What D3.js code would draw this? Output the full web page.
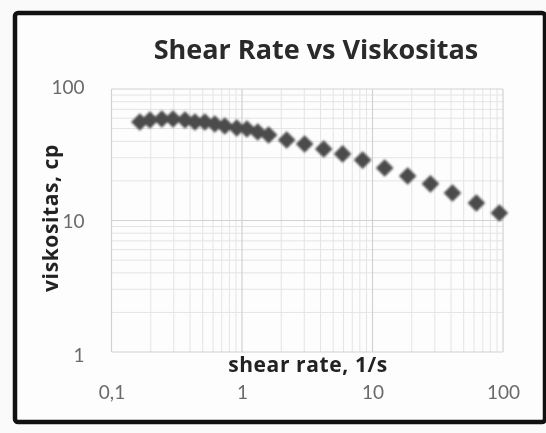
<!DOCTYPE html>
<html><head><meta charset="utf-8">
<script src="https://cdn.jsdelivr.net/npm/d3@7"></script>
<style>body{margin:0;background:#fafafa;} svg{display:block;}</style>
</head><body>
<svg id="c" width="546" height="433"></svg>
<script>
const shearRate = [0.165,0.197,0.243,0.296,0.366,0.436,0.519,0.619,0.738,0.912,1.09,1.32,1.60,2.20,3.02,4.23,5.90,8.40,12.4,18.6,27.8,41.0,62.5,93.8];
const viscosity = [56.1,58.1,59.2,59.2,58.1,56.1,56.1,54.2,52.3,50.5,49.6,47.1,44.7,40.9,38.2,35.0,32.1,28.8,25.1,21.8,19.0,16.2,13.6,11.4];
const xTicks = [0.1,1,10,100];
const xTickLabels = ["0,1","1","10","100"];
const yTicks = [1,10,100];
const yTickLabels = ["1","10","100"];

const svg = d3.select("#c");
const W=546,H=433;
const pl=111.5, pr=503, pt=89, pb=352;
const x = d3.scaleLog().domain([0.1,100]).range([pl,pr]);
const y = d3.scaleLog().domain([1,100]).range([pb,pt]);

svg.append("rect").attr("width",W).attr("height",H).attr("fill","#fafafa");
const defs = svg.append("defs");
defs.append("filter").attr("id","bl").append("feGaussianBlur").attr("stdDeviation",1.1);
defs.append("filter").attr("id","bl2").append("feGaussianBlur").attr("stdDeviation",0.5);

svg.append("rect").attr("x",15).attr("y",13).attr("width",530).attr("height",409)
  .attr("rx",3).attr("fill","#fdfdfd").attr("stroke","#111").attr("stroke-width",4.5);

const g = svg.append("g").attr("filter","url(#bl2)");
const minorX=[],minorY=[];
for(let d=0.1; d<100; d*=10){ for(let k=2;k<=9;k++) minorX.push(d*k); }
for(let d=1; d<100; d*=10){ for(let k=2;k<=9;k++) minorY.push(d*k); }
g.selectAll(".mx").data(minorX).join("line").attr("x1",d=>x(d)).attr("x2",d=>x(d))
 .attr("y1",pt).attr("y2",pb).attr("stroke","#e4e4e4").attr("stroke-width",1);
g.selectAll(".my").data(minorY).join("line").attr("y1",d=>y(d)).attr("y2",d=>y(d))
 .attr("x1",pl).attr("x2",pr).attr("stroke","#e4e4e4").attr("stroke-width",1);
g.selectAll(".Mx").data(xTicks).join("line").attr("x1",d=>x(d)).attr("x2",d=>x(d))
 .attr("y1",pt).attr("y2",pb).attr("stroke","#d2d2d2").attr("stroke-width",1.2);
g.selectAll(".My").data(yTicks).join("line").attr("y1",d=>y(d)).attr("y2",d=>y(d))
 .attr("x1",pl).attr("x2",pr).attr("stroke","#d2d2d2").attr("stroke-width",1.2);

const xAxis = d3.axisBottom(x).tickValues(xTicks).tickFormat((d,i)=>xTickLabels[i]).tickSize(0).tickPadding(0);
const yAxis = d3.axisLeft(y).tickValues(yTicks).tickFormat((d,i)=>yTickLabels[i]).tickSize(0).tickPadding(0);
const xa = svg.append("g").attr("transform",`translate(0,${pb+40})`).call(xAxis);
const ya = svg.append("g").attr("transform",`translate(${pl-27},0)`).call(yAxis);
[xa,ya].forEach(a=>{a.select(".domain").remove();
  a.selectAll("text").attr("font-family","Lato, 'Open Sans', sans-serif").attr("font-size",19)
   .attr("fill","#6a6a6a").attr("filter","url(#bl2)");});
xa.selectAll("text").attr("dy","0.35em");
ya.selectAll("text").attr("dy","0.35em");
ya.selectAll(".tick").filter(d=>d===1).select("text").attr("dy","0.5em");
ya.selectAll(".tick").filter(d=>d===100).select("text").attr("dy","0.25em");

svg.append("g").attr("filter","url(#bl)").selectAll("path").data(shearRate).join("path")
 .attr("transform",(d,i)=>`translate(${x(d)},${y(viscosity[i])}) rotate(45)`)
 .attr("d",d3.symbol(d3.symbolSquare,155)()).attr("fill","#4c4c4c");

const tf = "'Open Sans', Lato, sans-serif";
svg.append("text").attr("x",316).attr("y",59).attr("text-anchor","middle")
 .attr("font-family",tf).attr("font-weight","bold").attr("font-size",27)
 .attr("fill","#2a2a2a").attr("filter","url(#bl2)").text("Shear Rate vs Viskositas");
svg.append("text").attr("x",308).attr("y",372).attr("text-anchor","middle")
 .attr("font-family",tf).attr("font-weight","bold").attr("font-size",21)
 .attr("letter-spacing",0.6)
 .attr("fill","#222").attr("filter","url(#bl2)").text("shear rate, 1/s");
svg.append("text").attr("transform","translate(58,218) rotate(-90)").attr("text-anchor","middle")
 .attr("font-family",tf).attr("font-weight","bold").attr("font-size",21)
 .attr("letter-spacing",0.6)
 .attr("fill","#222").attr("filter","url(#bl2)").text("viskositas, cp");
</script>
</body></html>
